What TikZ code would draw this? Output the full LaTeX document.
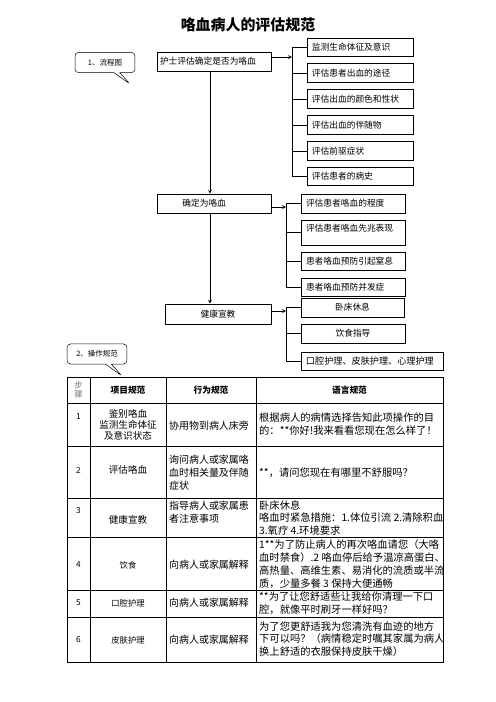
\documentclass[tikz,border=0pt]{standalone}
\usepackage{fontspec}
\setmainfont{Noto Sans CJK SC}
\usetikzlibrary{shapes.callouts, arrows}

\tikzstyle{mainbox} = [rectangle, 
draw=black, 
line width=0.8pt, 
minimum height=8mm, 
inner xsep=1.3mm,
align=left,
font=\fontsize{10.5}{12}\selectfont]
\tikzstyle{subbox} = [rectangle, 
draw=black, 
line width=0.8pt, 
minimum height=7.8mm, 
inner xsep=2.1mm,
align=left,
font=\fontsize{10.5}{12}\selectfont]
\tikzstyle{tag} = [rectangle callout, 
rounded corners=1.5mm, 
draw=black, 
line width=0.6pt, 
minimum width=25.4mm, 
minimum height=8.6mm, 
font=\fontsize{9}{11}\selectfont]
\tikzstyle{arrow} = [line width=1.1pt,->,>=stealth]
\tikzstyle{branch} = [line width=0.8pt]
\tikzstyle{grid} = [line width=0.8pt]
\tikzstyle{cell} = [align=center, 
font=\fontsize{12}{16}\selectfont]
\tikzstyle{small} = [align=center, 
font=\fontsize{10}{12}\selectfont]
\tikzstyle{celltext} = [anchor=west, 
align=left, 
inner xsep=0pt, 
font=\fontsize{12}{15.5}\selectfont]
\tikzstyle{saytext} = [anchor=west, 
align=left, 
inner xsep=0pt, 
font=\fontsize{12.4}{15.5}\selectfont]
\tikzstyle{head} = [font=\fontsize{10.5}{12}\selectfont\bfseries]

\begin{document}
\begin{tikzpicture}[x=0.4234mm, y=-0.4234mm]
			\useasboundingbox (0,0) rectangle (496,702);
			
			\node (title) at (248,25) {\fontsize{18}{20}\selectfont\bfseries 咯血病人的评估规范};
			
			% flow chart
			\node (tag1) [tag, callout absolute pointer={(130,84)}] at (105,62.5) {1、流程图};
			
			\node (ask) [mainbox, text width=45.7mm] at (214,61.5) {护士评估确定是否为咯血};
			\node (sure) [mainbox, text width=45.7mm, minimum height=8mm] at (214,203.5) {\hspace*{9.5mm}确定为咯血};
			\node (edu) [mainbox, text width=42.3mm, minimum height=8.5mm, align=center] at (218,314) {健康宣教};
			
			\node (ck1) [subbox, text width=40.7mm] at (360,47.5) {监测生命体征及意识};
			\node (ck2) [subbox, text width=40.7mm] at (360,73) {评估患者出血的途径};
			\node (ck3) [subbox, text width=40.7mm] at (360,99) {评估出血的颜色和性状};
			\node (ck4) [subbox, text width=40.7mm] at (360,125) {评估出血的伴随物};
			\node (ck5) [subbox, text width=40.7mm] at (360,151) {评估前驱症状};
			\node (ck6) [subbox, text width=40.7mm] at (360,176.5) {评估患者的病史};
			
			\node (dg1) [subbox, text width=39.8mm, minimum height=8mm] at (353,203.5) {评估患者咯血的程度};
			\node (dg2) [subbox, text width=39.8mm, minimum height=10.6mm] at (353,232.5) {评估患者咯血先兆表现\\ ~};
			\node (dg3) [subbox, text width=39.8mm, minimum height=7.6mm] at (353,261.5) {患者咯血预防引起窒息};
			\node (dg4) [subbox, text width=39.8mm, minimum height=7.6mm] at (353,287) {患者咯血预防并发症};
			
			\node (hl1) [subbox, text width=39.4mm, minimum height=8mm, align=center] at (352.5,307.5) {卧床休息};
			\node (hl2) [subbox, text width=39.8mm, minimum height=8mm, align=center] at (353,333.5) {饮食指导};
			\node (hl3) [subbox, text width=55.9mm, minimum height=7.6mm, font=\fontsize{11}{12}\selectfont] at (372,361) {口腔护理、皮肤护理、心理护理};
			
			\coordinate (mid) at (210,0);
			\coordinate (br1) at (292,57);
			\coordinate (br2) at (286,207);
			\coordinate (br3) at (286,311);
			
			\draw [arrow] (ask.south -| mid) -- (sure.north -| mid);
			\draw [arrow] (sure.south -| mid) -- (edu.north -| mid);
			
			\draw [arrow] (ask.east |- br1) -- (br1);
			\draw [branch] (ck1.west) -- (ck1.west -| br1) -- (ck6.west -| br1) -- (ck6.west);
			\draw [branch] (ck2.west) -- (ck2.west -| br1);
			\draw [branch] (ck3.west) -- (ck3.west -| br1);
			\draw [branch] (ck4.west) -- (ck4.west -| br1);
			\draw [branch] (ck5.west) -- (ck5.west -| br1);
			
			\draw [arrow] (sure.east |- br2) -- (br2);
			\draw [branch] (dg1.west) -- (dg1.west -| br2) -- (dg4.west -| br2) -- (dg4.west);
			\draw [branch] (dg2.west) -- (dg2.west -| br2);
			\draw [branch] (dg3.west) -- (dg3.west -| br2);
			
			\draw [arrow] (edu.east |- br3) -- (br3);
			\draw [branch] (hl1.west) -- (hl1.west -| br3) -- (hl3.west -| br3) -- (hl3.west);
			\draw [branch] (hl2.west) -- (hl2.west -| br3);
			
			% table
			\node (tag2) [tag, minimum height=8.5mm, callout absolute pointer={(122,376)}] at (97,354) {2、操作规范};
			
			\draw [grid, line width=1pt] (67,377) rectangle (443,662);
			\draw [grid] (67,403) -- (443,403);
			\draw [grid] (67,446) -- (443,446);
			\draw [grid] (67,498) -- (443,498);
			\draw [grid] (67,537) -- (443,537);
			\draw [grid] (67,590) -- (443,590);
			\draw [grid] (67,617) -- (443,617);
			\draw [grid] (90,377) -- (90,662);
			\draw [grid] (166,377) -- (166,662);
			\draw [grid] (256,377) -- (256,662);
			
			\node (h1) [small, text=black!55, font=\fontsize{10}{11}\selectfont] at (78.5,390) {步\\骤};
			\node (h2) [head] at (128,390) {项目规范};
			\node (h3) [head] at (211,390) {行为规范};
			\node (h4) [head] at (349.5,390) {语言规范};
			
			\node (n1) [small] at (78.5,417) {1};
			\node (n2) [small] at (78.5,470) {2};
			\node (n3) [small] at (78.5,511) {3};
			\node (n4) [small] at (78.5,565) {4};
			\node (n5) [small] at (78.5,603) {5};
			\node (n6) [small] at (78.5,640) {6};
			
			\node (p1) [cell, font=\fontsize{11.5}{13}\selectfont] at (128,425) {鉴别咯血\\监测生命体征\\及意识状态};
			\node (p2) [cell, font=\fontsize{11.5}{13}\selectfont] at (128,470) {评估咯血};
			\node (p3) [cell, font=\fontsize{11.5}{13}\selectfont] at (128,520) {健康宣教};
			\node (p4) [small] at (128,565) {饮食};
			\node (p5) [small] at (128,603) {口腔护理};
			\node (p6) [small] at (128,640) {皮肤护理};
			
			\node (a1) [celltext] at (169,426) {协用物到病人床旁};
			\node (a2) [celltext] at (169,473) {询问病人或家属咯\\血时相关量及伴随\\症状};
			\node (a3) [celltext] at (169,512.5) {指导病人或家属患\\者注意事项};
			\node (a4) [celltext] at (169,565) {向病人或家属解释};
			\node (a5) [celltext] at (169,603) {向病人或家属解释};
			\node (a6) [celltext] at (169,640) {向病人或家属解释};
			
			\node (s1) [saytext] at (259,424) {根据病人的病情选择告知此项操作的目\\的：**你好!我来看看您现在怎么样了！};
			\node (s2) [saytext] at (259,473) {**，请问您现在有哪里不舒服吗？};
			\node (s3) [saytext] at (259,518) {卧床休息\\咯血时紧急措施：1.体位引流 2.清除积血\\3.氧疗 4.环境要求};
			\node (s4) [saytext] at (259,564) {1**为了防止病人的再次咯血请您（大咯\\血时禁食）.2 咯血停后给予温凉高蛋白、\\高热量、高维生素、易消化的流质或半流\\质，少量多餐 3 保持大便通畅};
			\node (s5) [saytext] at (259,603.5) {**为了让您舒适些让我给你清理一下口\\腔，就像平时刷牙一样好吗？};
			\node (s6) [saytext] at (259,639) {为了您更舒适我为您清洗有血迹的地方\\下可以吗？（病情稳定时嘱其家属为病人\\换上舒适的衣服保持皮肤干燥）};
			
		\end{tikzpicture}
\end{document}
